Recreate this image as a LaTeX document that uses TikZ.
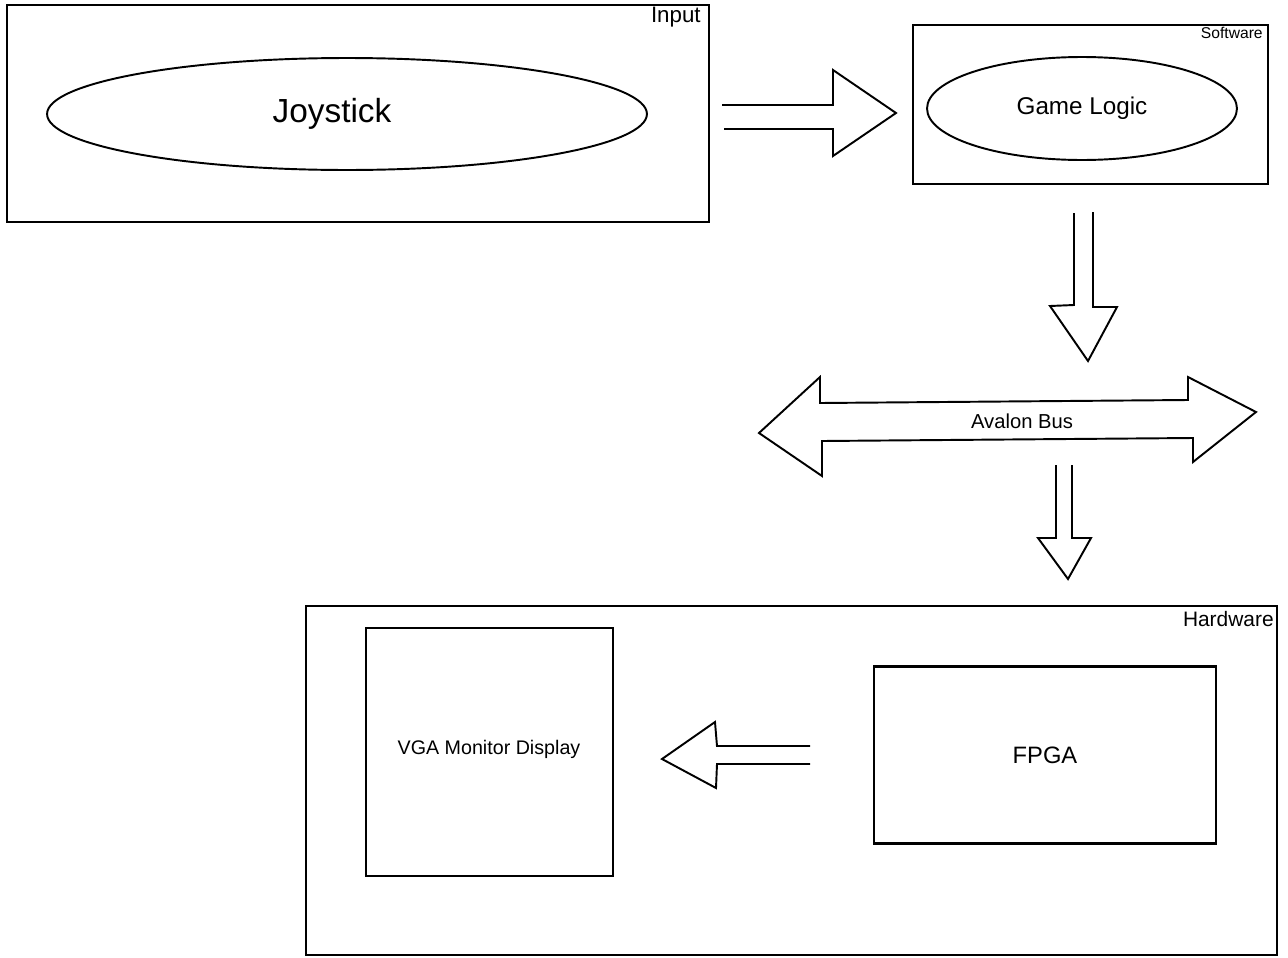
\documentclass[tikz,border=0pt]{standalone}
\usepackage{fontspec}
\setmainfont{Liberation Sans}
\usetikzlibrary{shapes.geometric,positioning}

\begin{document}
\begin{tikzpicture}[
    x=0.02cm, y=-0.02cm,
    box/.style={draw, line width=1.2pt, inner sep=0pt},
    oval/.style={draw, ellipse, line width=1.1pt, inner sep=0pt},
    blockarrow/.style={draw, line width=1.1pt, line join=miter},
    tag/.style={anchor=east, inner sep=0pt}
  ]
  \useasboundingbox (0,0) rectangle (1288,957);

  % Input
  \node[box, minimum width=14.04cm, minimum height=4.34cm] (input) at (358,113.5) {};
  \node[tag, font=\fontsize{12.7}{14}\selectfont] (inputlbl) at (701,17) {Input};
  \node[oval, minimum width=12cm, minimum height=2.24cm] (joy) at (347,114) {};
  \node[font=\fontsize{19}{21}\selectfont] (joylbl) at (332,114) {Joystick};

  % Software
  \node[box, minimum width=7.1cm, minimum height=3.18cm] (software) at (1090.5,104.5) {};
  \node[tag, font=\fontsize{8.9}{10}\selectfont] (softlbl) at (1263,33) {Software};
  \node[oval, minimum width=6.2cm, minimum height=2.06cm,
        font=\fontsize{13.8}{16}\selectfont] (logic) at (1082,108.5) {Game Logic};

  % Input -> Software
  \draw[blockarrow] (722,105) -- (833,105) -- (833,70) -- (896,113)
    -- (833,156) -- (833,129) -- (724,129);

  % Software -> bus
  \draw[blockarrow] (1074,213) -- (1074,305) -- (1050,306) -- (1088,361)
    -- (1117,307) -- (1093,307) -- (1093,212);

  % Avalon bus
  \draw[blockarrow] (759,433) -- (820,377) -- (820,403) -- (1188,400)
    -- (1188,377) -- (1256,412) -- (1193,462) -- (1193,438)
    -- (822,441) -- (822,476) -- cycle;
  \node[font=\fontsize{11.5}{13}\selectfont] (bus) at (1022,421) {Avalon Bus};

  % bus -> Hardware
  \draw[blockarrow] (1056,465) -- (1056,538) -- (1038,538) -- (1068,579)
    -- (1091,538) -- (1072,538) -- (1072,465);

  % Hardware
  \node[box, minimum width=19.42cm, minimum height=6.98cm] (hardware) at (791.5,780.5) {};
  \node[tag, font=\fontsize{11.9}{14}\selectfont] (hwlbl) at (1274,619) {Hardware};
  \node[box, minimum width=4.94cm, minimum height=4.96cm] (vga) at (489.5,752) {};
  \node[font=\fontsize{11.2}{13}\selectfont] (vgalbl) at (489,749) {VGA Monitor Display};
  \node[box, minimum width=6.84cm, minimum height=3.54cm,
        font=\fontsize{13.5}{16}\selectfont] (fpga) at (1045,755) {FPGA};

  % FPGA -> VGA
  \draw[blockarrow] (810,746) -- (717,746) -- (715,722) -- (662,759)
    -- (716,788) -- (717,764) -- (810,764);
\end{tikzpicture}
\end{document}
